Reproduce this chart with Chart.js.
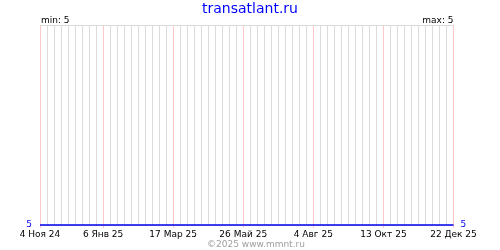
<!DOCTYPE html>
<html><head><meta charset="utf-8">
<script src="https://cdn.jsdelivr.net/npm/chart.js@4"></script>
<style>html,body{margin:0;padding:0;background:#fff;}#wrap{width:500px;height:250px;}</style>
</head><body><div id="wrap"><canvas id="c" width="500" height="250"></canvas></div>
<script>
const categories = [
 '4 Ноя 24','11 Ноя 24','18 Ноя 24','25 Ноя 24',
 '2 Дек 24','9 Дек 24','16 Дек 24','23 Дек 24','30 Дек 24',
 '6 Янв 25','13 Янв 25','20 Янв 25','27 Янв 25',
 '3 Фев 25','10 Фев 25','17 Фев 25','24 Фев 25',
 '3 Мар 25','10 Мар 25','17 Мар 25','24 Мар 25','31 Мар 25',
 '7 Апр 25','14 Апр 25','21 Апр 25','28 Апр 25',
 '5 Май 25','12 Май 25','19 Май 25','26 Май 25',
 '2 Июн 25','9 Июн 25','16 Июн 25','23 Июн 25','30 Июн 25',
 '7 Июл 25','14 Июл 25','21 Июл 25','28 Июл 25',
 '4 Авг 25','11 Авг 25','18 Авг 25','25 Авг 25',
 '1 Сен 25','8 Сен 25','15 Сен 25','22 Сен 25','29 Сен 25',
 '6 Окт 25','13 Окт 25','20 Окт 25','27 Окт 25',
 '3 Ноя 25','10 Ноя 25','17 Ноя 25','24 Ноя 25',
 '1 Дек 25','8 Дек 25','15 Дек 25','22 Дек 25'
];
const values = [
 5,5,5,5, 5,5,5,5,5, 5,5,5,5, 5,5,5,5, 5,5,5,5,5, 5,5,5,5, 5,5,5,5,
 5,5,5,5,5, 5,5,5,5, 5,5,5,5, 5,5,5,5,5, 5,5,5,5, 5,5,5,5, 5,5,5,5
];
const tickLabels = ['4 Ноя 24','6 Янв 25','17 Мар 25','26 Май 25','4 Авг 25','13 Окт 25','22 Дек 25'];
const yTicks = [5];
const titleText = 'transatlant.ru';
const minText = 'min: 5';
const maxText = 'max: 5';
const footerText = '©2025 www.mmnt.ru';

const FONT = '"DejaVu Sans", sans-serif';
const isMajor = (i) => tickLabels.includes(categories[i]);
const MAJOR = 'rgb(255,200,200)';
const MINOR = 'rgb(220,220,220)';

const textPlugin = {
  id: 'texts',
  afterDraw(chart) {
    const ctx = chart.ctx, a = chart.chartArea;
    ctx.save();
    ctx.textBaseline = 'alphabetic';
    ctx.font = '14px ' + FONT;
    ctx.fillStyle = '#0000ff';
    ctx.textAlign = 'center';
    ctx.fillText(titleText, 250, 13);
    ctx.font = '9px ' + FONT;
    ctx.fillStyle = '#000000';
    ctx.textAlign = 'left';
    ctx.fillText(minText, a.left + 1, 22.5);
    ctx.textAlign = 'right';
    ctx.fillText(maxText, a.right, 22.5);
    ctx.fillStyle = '#a0a0a0';
    ctx.textAlign = 'left';
    ctx.fillText(footerText, 207, 247);
    ctx.restore();
  }
};

new Chart(document.getElementById('c'), {
  type: 'line',
  data: {
    labels: categories,
    datasets: [{
      data: values,
      borderColor: '#0000ee',
      borderWidth: 1.5,
      pointRadius: 0,
      fill: false,
      tension: 0,
      clip: false,
      yAxisID: 'y'
    }]
  },
  options: {
    responsive: false,
    animation: false,
    events: [],
    layout: { padding: { top: 25, left: 0, right: 0, bottom: 0 } },
    plugins: { legend: { display: false }, tooltip: { enabled: false }, title: { display: false } },
    scales: {
      x: {
        type: 'category',
        offset: false,
        border: { display: false },
        grid: {
          color: (c) => (c.tick && isMajor(c.tick.value)) ? MAJOR : MINOR,
          tickColor: (c) => (c.tick && isMajor(c.tick.value)) ? MAJOR : 'rgba(0,0,0,0)',
          tickLength: 3,
          lineWidth: 1
        },
        ticks: {
          autoSkip: false,
          maxRotation: 0,
          minRotation: 0,
          padding: 1,
          color: '#000000',
          font: { family: FONT, size: 9 },
          callback: function (v, i) { return isMajor(i) ? categories[i] : ''; }
        },
        afterFit: (s) => { s.height = 25; }
      },
      y: {
        type: 'linear',
        position: 'left',
        min: 5, max: 6,
        border: { display: false },
        grid: { drawTicks: false, color: MINOR, lineWidth: 1 },
        afterBuildTicks: (s) => { s.ticks = [{ value: 5 }, { value: 6 }]; },
        ticks: {
          padding: 8,
          color: '#0000ee',
          font: { family: FONT, size: 9 },
          callback: (v) => yTicks.includes(v) ? String(v) : ''
        },
        afterFit: (s) => { s.width = 40; }
      },
      y2: {
        type: 'linear',
        position: 'right',
        min: 5, max: 6,
        border: { display: false },
        grid: { display: false, drawTicks: false },
        afterBuildTicks: (s) => { s.ticks = [{ value: 5 }, { value: 6 }]; },
        ticks: {
          padding: 7,
          color: '#0000ee',
          font: { family: FONT, size: 9 },
          callback: (v) => yTicks.includes(v) ? String(v) : ''
        },
        afterFit: (s) => { s.width = 46.5; }
      }
    }
  },
  plugins: [textPlugin]
});
</script>
</body></html>
